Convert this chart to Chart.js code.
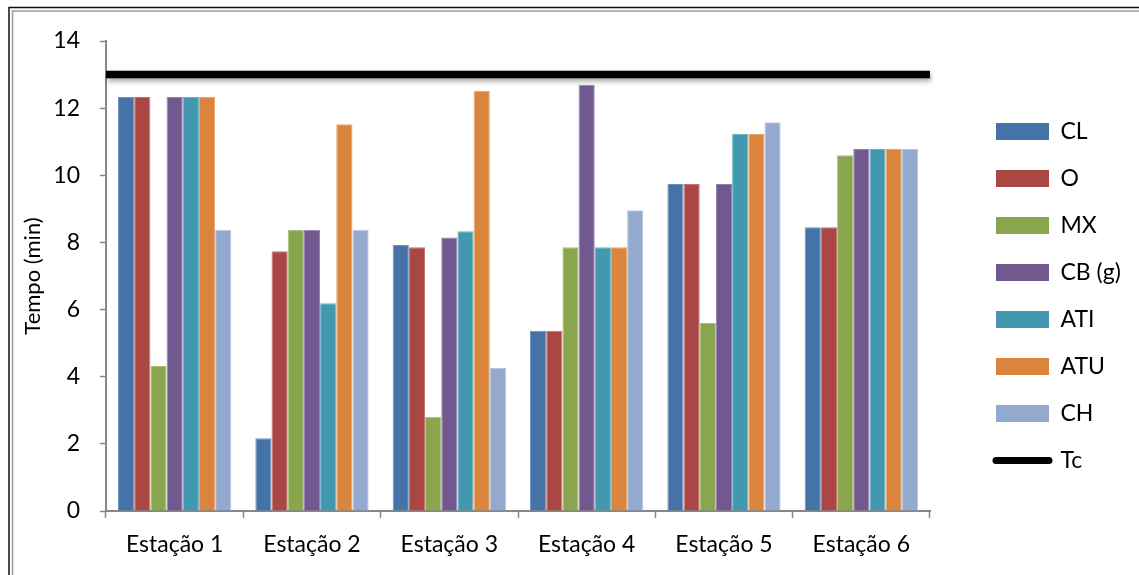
<!DOCTYPE html>
<html>
<head>
<meta charset="utf-8">
<title>Tempo por estação</title>
<script src="https://cdn.jsdelivr.net/npm/chart.js@4.4.1/dist/chart.umd.min.js"></script>
<style>
  html, body { margin: 0; padding: 0; background: #fff; }
  #wrap { width: 1139px; height: 575px; position: relative; }
</style>
</head>
<body>
<div id="wrap"><canvas id="c" width="1139" height="575"></canvas></div>
<script>
// Categories and series (tempo em minutos)
const estacoes = ['Estação 1', 'Estação 2', 'Estação 3', 'Estação 4', 'Estação 5', 'Estação 6'];
const serieCL  = [12.33, 2.17, 7.92, 5.37, 9.74, 8.45];
const serieO   = [12.33, 7.74, 7.86, 5.37, 9.74, 8.45];
const serieMX  = [4.32, 8.38, 2.81, 7.86, 5.60, 10.60];
const serieCB  = [12.33, 8.38, 8.15, 12.70, 9.74, 10.78];
const serieATI = [12.33, 6.19, 8.33, 7.86, 11.23, 10.78];
const serieATU = [12.33, 11.52, 12.52, 7.86, 11.23, 10.78];
const serieCH  = [8.38, 8.38, 4.26, 8.96, 11.58, 10.78];
const tempoCiclo = 13;           // Tc
const yTicks = [0, 2, 4, 6, 8, 10, 12, 14];

const FONT = 'Lato, "Open Sans", sans-serif';
const AXIS_GRAY = '#878787';

const barSeries = [
  { label: 'CL',     data: serieCL,  color: '#4572A7', edge: '#6f93bf' },
  { label: 'O',      data: serieO,   color: '#AA4643', edge: '#c4726f' },
  { label: 'MX',     data: serieMX,  color: '#89A54E', edge: '#a8bf78' },
  { label: 'CB (g)', data: serieCB,  color: '#71588F', edge: '#9480ad' },
  { label: 'ATI',    data: serieATI, color: '#4198AF', edge: '#6db3c6' },
  { label: 'ATU',    data: serieATU, color: '#DB843D', edge: '#e8a36a' },
  { label: 'CH',     data: serieCH,  color: '#93A9CF', edge: '#b6c6e2' }
];

const datasets = barSeries.map(s => ({
  label: s.label,
  data: s.data,
  backgroundColor: s.color,
  borderColor: s.edge,
  borderWidth: { left: 1, right: 1, top: 1, bottom: 0 },
  xAxisID: 'x',
  yAxisID: 'y'
}));

// Tc reference line from the left edge of the first category to the right edge of the last
datasets.push({
  type: 'line',
  label: 'Tc',
  parsing: false,
  data: [{ x: -0.5, y: tempoCiclo }, { x: estacoes.length - 0.5, y: tempoCiclo }],
  borderColor: '#000',
  backgroundColor: '#000',
  borderWidth: 7.5,
  borderCapStyle: 'butt',
  pointRadius: 0,
  fill: false,
  xAxisID: 'x',
  yAxisID: 'y'
});

// Outer frame and white background
const framePlugin = {
  id: 'frame',
  beforeDraw(chart) {
    const ctx = chart.ctx;
    ctx.save();
    ctx.fillStyle = '#fff';
    ctx.fillRect(0, 0, chart.width, chart.height);
    ctx.lineWidth = 1.5;
    ctx.strokeStyle = '#111';
    ctx.beginPath();
    ctx.moveTo(9, chart.height);
    ctx.lineTo(9, 7.5);
    ctx.lineTo(chart.width, 7.5);
    ctx.stroke();
    ctx.strokeStyle = '#9a9a9a';
    ctx.beginPath();
    ctx.moveTo(12.5, chart.height);
    ctx.lineTo(12.5, 11);
    ctx.lineTo(chart.width, 11);
    ctx.stroke();
    ctx.restore();
  }
};

// Soft drop shadow under the Tc line
const shadowPlugin = {
  id: 'tcShadow',
  beforeDatasetDraw(chart, args) {
    if (chart.data.datasets[args.index].label !== 'Tc') return;
    const ctx = chart.ctx;
    ctx.save();
    ctx.shadowColor = 'rgba(0,0,0,0.35)';
    ctx.shadowBlur = 5;
    ctx.shadowOffsetX = 1;
    ctx.shadowOffsetY = 3;
  },
  afterDatasetDraw(chart, args) {
    if (chart.data.datasets[args.index].label !== 'Tc') return;
    chart.ctx.restore();
  }
};

// Place the legend block to the right of the plot, with room for its text
const legendPlace = {
  id: 'legendPlace',
  afterLayout(chart) {
    const lg = chart.legend;
    if (!lg) return;
    lg.left += 42;
    lg.right = chart.width;
    lg.width = lg.right - lg.left;
    lg.top -= 12;
    lg.bottom -= 12;
    lg.height = lg.bottom - lg.top;
  }
};

new Chart(document.getElementById('c'), {
  type: 'bar',
  data: { labels: estacoes, datasets },
  plugins: [framePlugin, shadowPlugin, legendPlace],
  options: {
    responsive: false,
    animation: false,
    devicePixelRatio: 1,
    color: '#000',
    font: { family: FONT, size: 21 },
    layout: { padding: { top: 41, bottom: 0, left: 0, right: 89 } },
    datasets: {
      bar: { categoryPercentage: 0.825, barPercentage: 1.0 }
    },
    plugins: {
      tooltip: { enabled: false },
      legend: {
        position: 'right',
        maxWidth: 120,
        labels: {
          font: { family: FONT, size: 23 },
          color: '#000',
          usePointStyle: true,
          pointStyleWidth: 53,
          boxWidth: 53,
          boxHeight: 17,
          padding: 24,
          generateLabels(chart) {
            return chart.data.datasets.map((ds, i) => {
              const isLine = ds.type === 'line';
              return {
                text: ds.label,
                datasetIndex: i,
                fillStyle: ds.backgroundColor,
                strokeStyle: isLine ? ds.borderColor : ds.backgroundColor,
                lineWidth: isLine ? 7 : 0,
                lineCap: isLine ? 'round' : 'butt',
                pointStyle: isLine ? 'line' : 'rect',
                fontColor: '#000',
                hidden: false
              };
            });
          }
        }
      }
    },
    scales: {
      x: {
        type: 'category',
        position: 'bottom',
        offset: true,
        afterFit(s) { s.height = 64; },
        grid: {
          display: true,
          offset: true,
          drawOnChartArea: false,
          drawTicks: true,
          tickLength: 7,
          tickWidth: 1.5,
          tickColor: AXIS_GRAY
        },
        border: { display: true, color: AXIS_GRAY, width: 2 },
        ticks: { color: '#000', font: { family: FONT, size: 23 }, padding: 13, maxRotation: 0 }
      },
      y: {
        type: 'linear',
        position: 'left',
        min: 0,
        max: 14,
        afterFit(s) { s.width = 106; },
        afterBuildTicks(s) { s.ticks = yTicks.map(v => ({ value: v })); },
        grid: {
          display: true,
          drawOnChartArea: false,
          drawTicks: true,
          tickLength: 6,
          tickWidth: 1.5,
          tickColor: AXIS_GRAY
        },
        border: { display: true, color: AXIS_GRAY, width: 2 },
        ticks: { color: '#000', font: { family: FONT, size: 23 }, padding: 20 },
        title: {
          display: true,
          text: 'Tempo (min)',
          color: '#000',
          font: { family: FONT, size: 22 },
          padding: { top: 20, bottom: 0 }
        }
      }
    }
  }
});
</script>
</body>
</html>
